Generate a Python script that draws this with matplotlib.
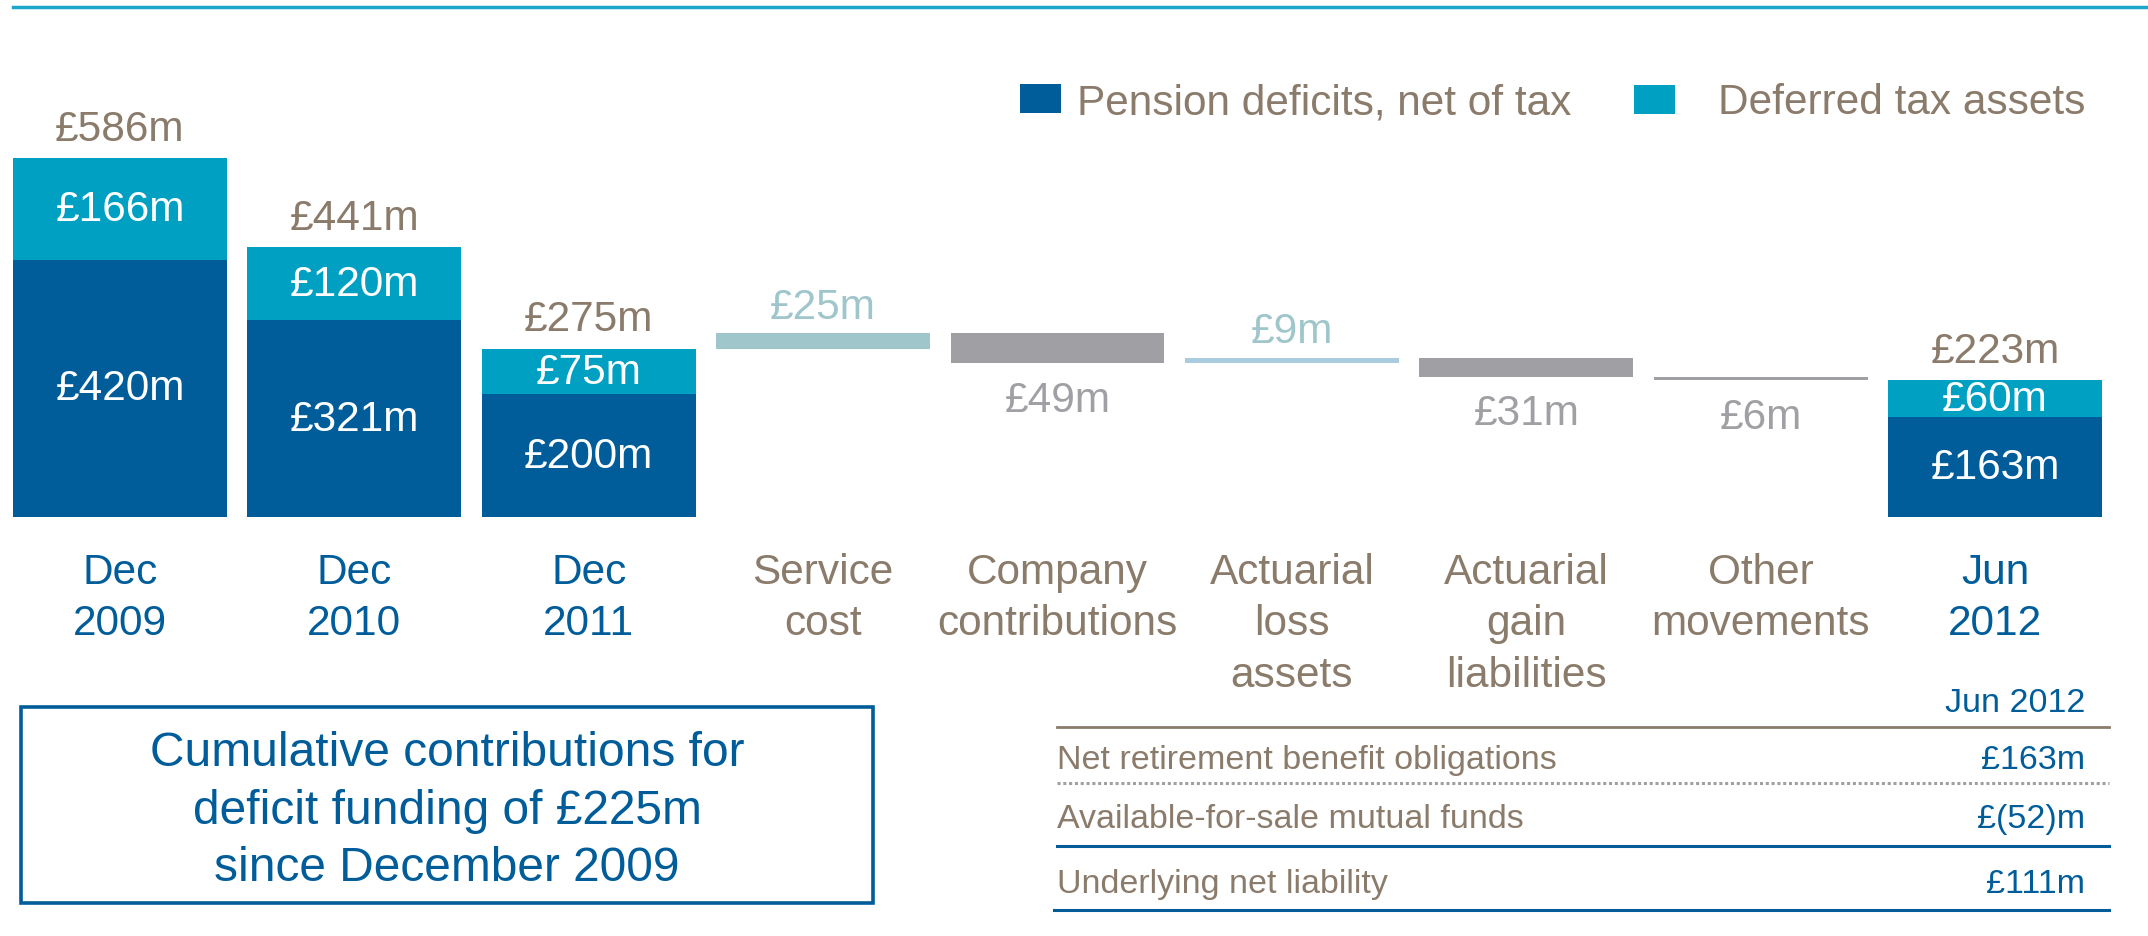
import matplotlib
matplotlib.use("Agg")
import matplotlib.pyplot as plt
from matplotlib.lines import Line2D
from matplotlib.patches import Rectangle
import numpy as np

plt.rcParams["font.family"] = ["Liberation Sans", "DejaVu Sans"]

W, H = 2148, 937

# colours
dark_blue = "#005D9A"
cyan = "#00A0C3"
brown = "#8B7B6B"
grey = "#A09FA4"
teal = "#9FC6CA"
light_blue = "#A9CDDE"

# data
categories = ["Dec\n2009", "Dec\n2010", "Dec\n2011", "Service\ncost",
              "Company\ncontributions", "Actuarial\nloss\nassets",
              "Actuarial\ngain\nliabilities", "Other\nmovements", "Jun\n2012"]
stack_idx = [0, 1, 2, 8]
pension_net = [420, 321, 200, 163]
deferred_tax = [166, 120, 75, 60]
totals = [586, 441, 275, 223]
move_idx = [3, 4, 5, 6, 7]
movements = [25, -49, 9, -31, -6]
move_colors = [teal, grey, light_blue, grey, grey]

legend_labels = ["Pension deficits, net of tax", "Deferred tax assets"]
box_text = "Cumulative contributions for\ndeficit funding of £225m\nsince December 2009"
table_header = "Jun 2012"
table_rows = ["Net retirement benefit obligations", "Available-for-sale mutual funds",
              "Underlying net liability"]
table_values = ["£163m", "£(52)m", "£111m"]


def fx(px):
    return px / W


def fy(py):
    return 1 - py / H


fig = plt.figure(figsize=(W / 100, H / 100), dpi=100)

# main bar axes, positioned in pixels
px_per_m = 0.6126
ax_top = 60
ax = fig.add_axes([fx(13), fy(518), fx(2102) - fx(13), (518 - ax_top) / H])
bw = 0.913
ax.set_xlim(-bw / 2, 8 + bw / 2)
ax.set_ylim(0, (518 - ax_top) / px_per_m)
for s in ax.spines.values():
    s.set_visible(False)
ax.set_yticks([])

lab_fs = 30.5
ax.bar(stack_idx, pension_net, width=bw, color=dark_blue, linewidth=0)
ax.bar(stack_idx, deferred_tax, width=bw, bottom=pension_net, color=cyan, linewidth=0)

for i, x in enumerate(stack_idx):
    ax.text(x, pension_net[i] / 2, "£%dm" % pension_net[i], color="white",
            ha="center", va="center", fontsize=lab_fs)
    ax.text(x, pension_net[i] + deferred_tax[i] / 2, "£%dm" % deferred_tax[i],
            color="white", ha="center", va="center", fontsize=lab_fs)
    ax.annotate("£%dm" % totals[i], (x, totals[i]), xytext=(0, 13),
                textcoords="offset points", ha="center", va="baseline",
                color=brown, fontsize=lab_fs)

# waterfall movements
level = np.concatenate([[totals[2]], totals[2] + np.cumsum(movements)])
bottoms = np.minimum(level[:-1], level[1:])
heights = np.abs(movements)
ax.bar(move_idx, heights, width=bw, bottom=bottoms, color=move_colors, linewidth=0)
for x, mv, b, h in zip(move_idx, movements, bottoms, heights):
    if mv > 0:
        ax.annotate("£%dm" % abs(mv), (x, b + h), xytext=(0, 11),
                    textcoords="offset points", ha="center", va="baseline",
                    color=teal, fontsize=lab_fs)
    else:
        ax.annotate("£%dm" % abs(mv), (x, b), xytext=(0, -12),
                    textcoords="offset points", ha="center", va="top",
                    color=grey, fontsize=lab_fs)

ax.set_xticks(range(len(categories)))
ax.set_xticklabels(categories, fontsize=lab_fs, linespacing=1.37)
ax.tick_params(axis="x", length=0, pad=25)
for i, t in enumerate(ax.get_xticklabels()):
    t.set_multialignment("center")
    t.set_color(dark_blue if i in stack_idx else brown)

# top rule
fig.add_artist(Line2D([fx(13), 1], [fy(8), fy(8)], color="#1AA7CB", lw=2.5))

# legend drawn by hand
fig.add_artist(Rectangle((fx(1020), fy(114)), fx(41), 29 / H, color=dark_blue, lw=0))
fig.text(fx(1077), fy(114), legend_labels[0], color=brown, fontsize=lab_fs,
         ha="left", va="baseline")
fig.add_artist(Rectangle((fx(1634), fy(115)), fx(41), 29 / H, color=cyan, lw=0))
fig.text(fx(1718), fy(114), legend_labels[1], color=brown, fontsize=lab_fs,
         ha="left", va="baseline")

# text box
fig.add_artist(Rectangle((fx(21), fy(904)), fx(873 - 21), (904 - 708) / H,
                         fill=False, edgecolor=dark_blue, lw=2.6))
fig.text(fx(447), fy(811), box_text, color=dark_blue, fontsize=34.5,
         ha="center", va="center", linespacing=1.37, multialignment="center")

# small table
tab_fs = 24.5
fig.text(fx(2085), fy(712), table_header, color=dark_blue, fontsize=tab_fs,
         ha="right", va="baseline")
fig.add_artist(Line2D([fx(1057), fx(2109)], [fy(728), fy(728)], color=brown, lw=2))
fig.add_artist(Line2D([fx(1057), fx(2109)], [fy(784), fy(784)], color=grey, lw=2.2,
                      linestyle=(0, (1, 0.9))))
fig.add_artist(Line2D([fx(1057), fx(2109)], [fy(847), fy(847)], color=dark_blue, lw=2.2))
fig.add_artist(Line2D([fx(1054), fx(2109)], [fy(911), fy(911)], color=dark_blue, lw=2.2))
for lab, val, base in zip(table_rows, table_values, [769, 828, 893]):
    fig.text(fx(1057), fy(base), lab, color=brown, fontsize=tab_fs,
             ha="left", va="baseline")
    fig.text(fx(2085), fy(base), val, color=dark_blue, fontsize=tab_fs,
             ha="right", va="baseline")

plt.savefig("out.png", dpi=100)
plt.close()
